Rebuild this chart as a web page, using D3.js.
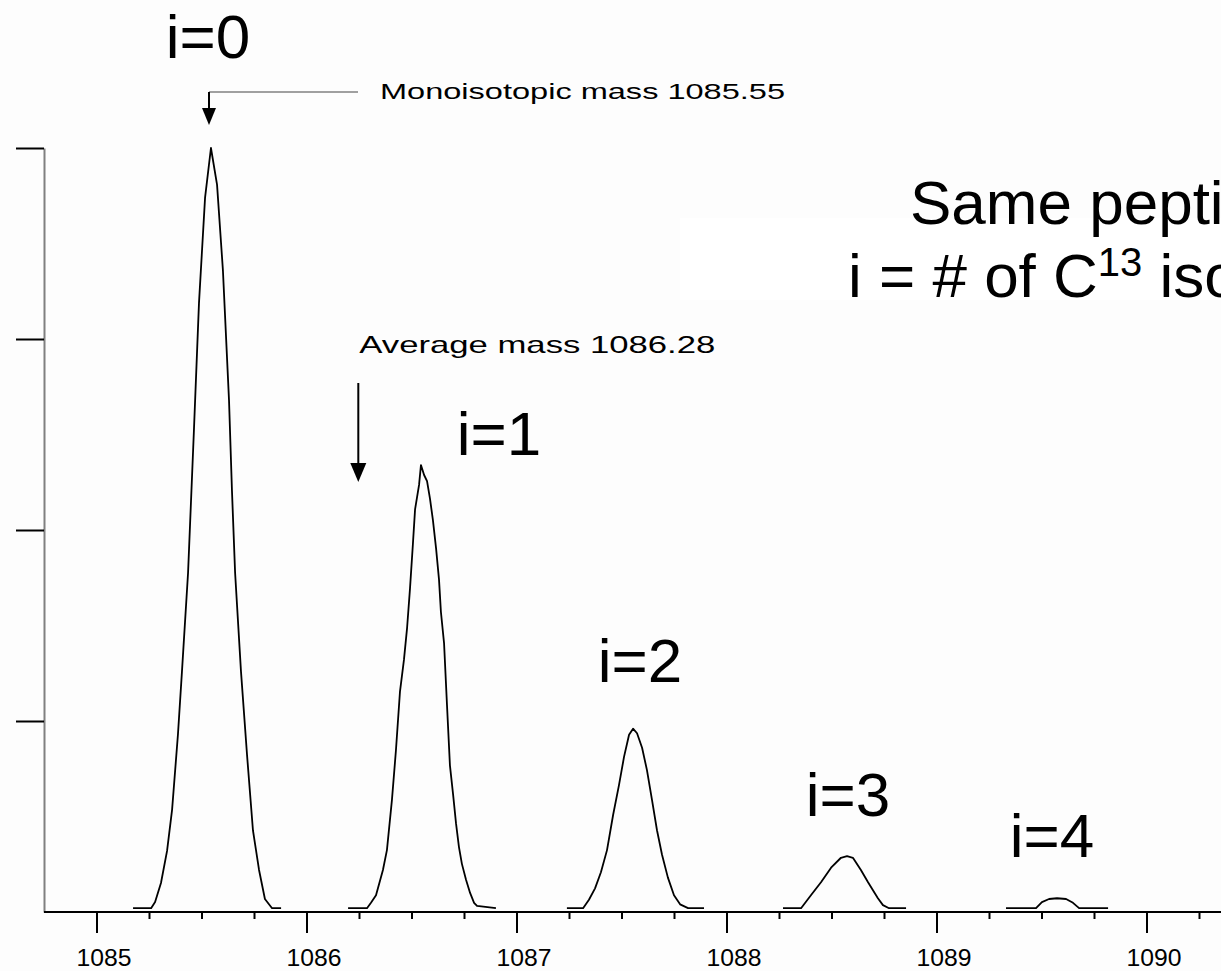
<!DOCTYPE html>
<html>
<head>
<meta charset="utf-8">
<script src="https://cdn.jsdelivr.net/npm/d3@7"></script>
<style>
html,body{margin:0;padding:0;background:#fdfdfd;overflow:hidden;}
svg{display:block;}
text{font-family:"Liberation Sans",Arial,sans-serif;fill:#000;}
</style>
</head>
<body>
<div id="chart"></div>
<script>
// isotope envelope (m/z, relative intensity %)
var isoLabels=["i=0","i=1","i=2","i=3","i=4"];

var peak0Mz=[1085.174,1085.260,1085.279,1085.307,1085.336,1085.360,1085.388,1085.407,1085.436,1085.464,1085.488,1085.517,1085.545,1085.574,1085.602,1085.631,1085.645,1085.660,1085.688,1085.717,1085.745,1085.774,1085.802,1085.836,1085.879];
var peak0Int=[0.5,0.5,1.3,3.8,8.0,13.4,23.3,31.5,44.4,63.1,79.7,93.5,100,95.2,84.0,67.0,55.2,44.4,31.5,20.5,10.7,5.5,1.7,0.5,0.5];

var peak1Mz=[1086.198,1086.288,1086.307,1086.331,1086.364,1086.383,1086.407,1086.426,1086.445,1086.464,1086.479,1086.493,1086.507,1086.517,1086.536,1086.545,1086.560,1086.574,1086.588,1086.602,1086.617,1086.631,1086.640,1086.655,1086.669,1086.683,1086.698,1086.712,1086.726,1086.740,1086.760,1086.779,1086.798,1086.812,1086.902];
var peak1Int=[0.5,0.5,1.2,2.2,5.5,8.1,14.7,21.2,28.8,33.0,37.2,42.4,48.3,52.7,55.9,58.5,57.2,56.4,54.1,51.3,47.6,43.5,39.3,35.2,27.1,19.2,15.4,11.6,8.5,6.3,4.2,2.5,1.2,0.8,0.5];

var peak2Mz=[1087.240,1087.317,1087.345,1087.374,1087.402,1087.431,1087.460,1087.488,1087.512,1087.536,1087.555,1087.574,1087.598,1087.621,1087.645,1087.669,1087.693,1087.721,1087.750,1087.779,1087.817,1087.893];
var peak2Int=[0.5,0.5,1.6,3.1,5.2,8.1,12.7,16.6,20.3,23.2,24.0,23.4,21.5,18.6,14.7,10.7,7.5,4.5,2.2,1.0,0.5,0.5];

var peak3Mz=[1088.269,1088.355,1088.402,1088.450,1088.498,1088.545,1088.574,1088.602,1088.640,1088.674,1088.721,1088.745,1088.774,1088.855];
var peak3Int=[0.5,0.5,2.2,3.9,5.8,7.1,7.3,7.1,5.5,3.9,1.8,0.9,0.5,0.5];

var peak4Mz=[1089.331,1089.474,1089.502,1089.536,1089.574,1089.617,1089.650,1089.679,1089.817];
var peak4Int=[0.5,0.5,1.3,1.7,1.8,1.7,1.2,0.5,0.5];

var majorTicks=[1085,1086,1087,1088,1089,1090];
var yTicks=[25,50,75,100];

var monoMass=1085.55, avgMass=1086.28;
var monoText="Monoisotopic mass 1085.55";
var avgText="Average mass 1086.28";

var W=1221,H=971;
var svg=d3.select("#chart").append("svg").attr("width",W).attr("height",H);

var x=d3.scaleLinear().domain([1084.75,1090.5]).range([44,44+5.75*210]);
var y=d3.scaleLinear().domain([0,100]).range([912,148]);

// white box behind the side text
svg.append("rect").attr("x",680).attr("y",218).attr("width",W-680).attr("height",82).attr("fill","#ffffff");

// y axis (grey line, unlabeled ticks)
var yAxis=svg.append("g").attr("transform","translate("+x(1084.75)+",0)")
	.call(d3.axisLeft(y).tickValues(yTicks).tickSize(28).tickSizeOuter(0).tickFormat(""));
yAxis.select(".domain").attr("stroke","#808080").attr("stroke-width",2);
yAxis.selectAll(".tick line").attr("stroke","#000").attr("stroke-width",2);

// x axis: minor ticks every 0.25
var minorTicks=d3.range(1085.25,1090.5,0.25).filter(function(d){return majorTicks.indexOf(Math.round(d*100)/100)<0;});
var xMinor=svg.append("g").attr("transform","translate(0,"+y(0)+")")
	.call(d3.axisBottom(x).tickValues(minorTicks).tickSize(7).tickSizeOuter(0).tickFormat(""));
xMinor.select(".domain").remove();
xMinor.selectAll(".tick line").attr("stroke","#000").attr("stroke-width",2);

var xMajor=svg.append("g").attr("transform","translate(0,"+y(0)+")")
	.call(d3.axisBottom(x).tickValues(majorTicks).tickSize(21).tickSizeOuter(0).tickPadding(16).tickFormat(d3.format("d")));
xMajor.select(".domain").remove();
xMajor.selectAll(".tick line").attr("stroke","#000").attr("stroke-width",2);
xMajor.selectAll(".tick text").attr("font-size",24).attr("dx",7)
	.attr("font-family","'Liberation Sans',Arial,sans-serif")
	.attr("textLength",55).attr("lengthAdjust","spacingAndGlyphs");

svg.append("line").attr("x1",x(1084.75)).attr("x2",W).attr("y1",y(0)).attr("y2",y(0))
	.attr("stroke","#000").attr("stroke-width",2);

// the trace
var peaks=[[peak0Mz,peak0Int],[peak1Mz,peak1Int],[peak2Mz,peak2Int],[peak3Mz,peak3Int],[peak4Mz,peak4Int]];
var line=d3.line().x(function(d){return x(d[0]);}).y(function(d){return y(d[1]);});
peaks.forEach(function(p){
	var pts=p[0].map(function(m,i){return [m,p[1][i]];});
	svg.append("path").datum(pts).attr("d",line)
		.attr("fill","none").attr("stroke","#000").attr("stroke-width",1.8).attr("stroke-linejoin","round");
});

// isotope labels placed from each apex
var labelShift=[[-3,-90],[78,-10],[7,-47],[1,-40],[-5,-41]];
peaks.forEach(function(p,i){
	var top=d3.maxIndex(p[1]);
	svg.append("text").attr("x",x(p[0][top])+labelShift[i][0]).attr("y",y(p[1][top])+labelShift[i][1])
		.attr("text-anchor","middle").attr("font-size",62).text(isoLabels[i]);
});

// arrows
function arrowHead(cx,tip,w,h){
	svg.append("path").attr("d","M"+(cx-w/2)+","+(tip-h)+"L"+(cx+w/2)+","+(tip-h)+"L"+cx+","+tip+"Z").attr("fill","#000");
}
var mx=x(monoMass)-3;
svg.append("line").attr("x1",mx).attr("x2",358).attr("y1",92).attr("y2",92).attr("stroke","#808080").attr("stroke-width",1.5);
svg.append("line").attr("x1",mx).attr("x2",mx).attr("y1",92).attr("y2",112).attr("stroke","#000").attr("stroke-width",2);
arrowHead(mx,125,14,17);
svg.append("text").attr("x",380).attr("y",99).attr("font-size",22)
	.attr("textLength",405).attr("lengthAdjust","spacingAndGlyphs").text(monoText);

var ax=x(avgMass)-7;
svg.append("line").attr("x1",ax).attr("x2",ax).attr("y1",383).attr("y2",468).attr("stroke","#000").attr("stroke-width",2);
arrowHead(ax,482,16,19);
svg.append("text").attr("x",ax+1).attr("y",353).attr("font-size",24)
	.attr("textLength",356).attr("lengthAdjust","spacingAndGlyphs").text(avgText);

// side text (runs off the right edge as in the slide)
svg.append("text").attr("x",910).attr("y",224).attr("font-size",62).text("Same peptide");
var t2=svg.append("text").attr("x",848).attr("y",297).attr("font-size",62);
t2.append("tspan").text("i = # of C");
t2.append("tspan").attr("font-size",40).attr("dy",-21).text("13");
t2.append("tspan").attr("dy",21).text(" isotopes");
</script>
</body>
</html>
